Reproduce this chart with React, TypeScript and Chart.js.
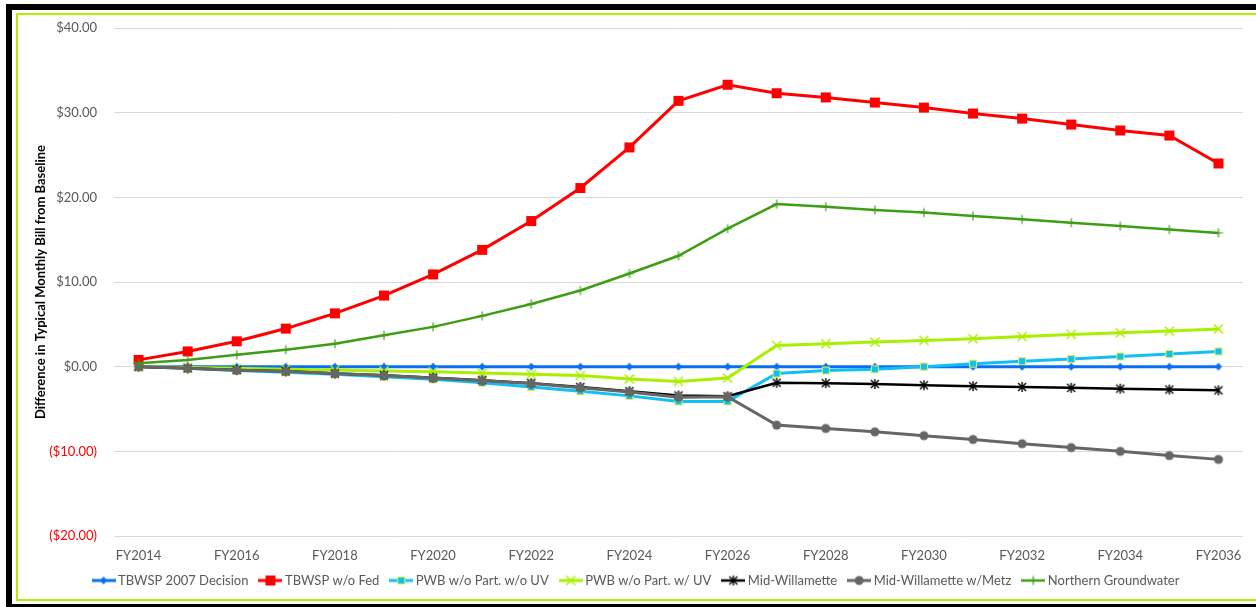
import React, { useEffect, useRef } from 'react';
import { Chart, registerables } from 'chart.js';

Chart.register(...registerables);

// Fiscal years on the category axis
const fiscalYears = [
  'FY2014', 'FY2015', 'FY2016', 'FY2017', 'FY2018', 'FY2019', 'FY2020', 'FY2021',
  'FY2022', 'FY2023', 'FY2024', 'FY2025', 'FY2026', 'FY2027', 'FY2028', 'FY2029',
  'FY2030', 'FY2031', 'FY2032', 'FY2033', 'FY2034', 'FY2035', 'FY2036',
];

// Difference in typical monthly bill from baseline, dollars
const tbwsp2007Decision = [0, 0, 0, 0, 0, 0, 0, 0, 0, 0, 0, 0, 0, 0, 0, 0, 0, 0, 0, 0, 0, 0, 0];
const tbwspWithoutFed = [
  0.8, 1.8, 3.0, 4.5, 6.3, 8.4, 10.9, 13.8, 17.2, 21.1, 25.9, 31.4,
  33.3, 32.3, 31.8, 31.2, 30.6, 29.9, 29.3, 28.6, 27.9, 27.3, 24.0,
];
const pwbNoPartnerNoUv = [
  0, -0.2, -0.45, -0.65, -0.9, -1.2, -1.5, -1.9, -2.4, -2.9, -3.45, -4.1,
  -4.1, -0.8, -0.45, -0.3, 0.0, 0.35, 0.65, 0.9, 1.2, 1.5, 1.8,
];
const pwbNoPartnerWithUv = [
  0, -0.1, -0.2, -0.3, -0.4, -0.5, -0.6, -0.75, -0.9, -1.05, -1.45, -1.75,
  -1.35, 2.5, 2.7, 2.9, 3.1, 3.3, 3.55, 3.8, 4.0, 4.2, 4.45,
];
const midWillamette = [
  0, -0.2, -0.4, -0.55, -0.8, -1.0, -1.3, -1.6, -1.95, -2.4, -2.9, -3.4,
  -3.5, -1.9, -1.95, -2.05, -2.2, -2.3, -2.4, -2.5, -2.6, -2.7, -2.8,
];
const midWillametteMetz = [
  0, -0.2, -0.43, -0.55, -0.8, -1.05, -1.35, -1.65, -2.0, -2.5, -3.0, -3.6,
  -3.55, -6.9, -7.3, -7.7, -8.15, -8.6, -9.1, -9.55, -10.0, -10.5, -10.95,
];
const northernGroundwater = [
  0.4, 0.8, 1.4, 2.0, 2.7, 3.7, 4.7, 6.0, 7.4, 9.0, 11.0, 13.1,
  16.3, 19.2, 18.9, 18.5, 18.2, 17.8, 17.4, 17.0, 16.6, 16.2, 15.8,
];

// Y axis range
const yMin = -20;
const yMax = 40;
const yStep = 10;

const FONT = 'Lato, "Open Sans", sans-serif';
const FONT_SIZE = 13;
const TEXT_GRAY = '#595959';

type MarkerKind = 'diamond' | 'square' | 'smallSquare' | 'x' | 'star' | 'circle' | 'plus';

interface SeriesStyle {
  label: string;
  data: number[];
  color: string;
  width: number;
  marker: MarkerKind;
}

const series: SeriesStyle[] = [
  { label: 'TBWSP 2007 Decision', data: tbwsp2007Decision, color: '#0A6EF5', width: 3, marker: 'diamond' },
  { label: 'TBWSP w/o Fed', data: tbwspWithoutFed, color: '#FF0000', width: 3, marker: 'square' },
  { label: 'PWB w/o Part. w/o UV', data: pwbNoPartnerNoUv, color: '#12BFF5', width: 3, marker: 'smallSquare' },
  { label: 'PWB w/o Part. w/ UV', data: pwbNoPartnerWithUv, color: '#A8F000', width: 3, marker: 'x' },
  { label: 'Mid-Willamette', data: midWillamette, color: '#000000', width: 2.5, marker: 'star' },
  { label: 'Mid-Willamette w/Metz', data: midWillametteMetz, color: '#666666', width: 3, marker: 'circle' },
  { label: 'Northern Groundwater', data: northernGroundwater, color: '#3C9E14', width: 2.5, marker: 'plus' },
];

function drawMarker(ctx: CanvasRenderingContext2D, kind: MarkerKind, cx: number, cy: number, color: string) {
  ctx.save();
  ctx.fillStyle = color;
  ctx.strokeStyle = color;
  ctx.lineCap = 'butt';
  switch (kind) {
    case 'diamond':
      ctx.beginPath();
      ctx.moveTo(cx, cy - 4);
      ctx.lineTo(cx + 3.5, cy);
      ctx.lineTo(cx, cy + 4);
      ctx.lineTo(cx - 3.5, cy);
      ctx.closePath();
      ctx.fill();
      break;
    case 'square':
      ctx.fillRect(cx - 5, cy - 5, 10, 10);
      break;
    case 'smallSquare':
      ctx.fillRect(cx - 3.5, cy - 3.5, 7, 7);
      ctx.strokeStyle = '#DDF24A';
      ctx.lineWidth = 1;
      ctx.strokeRect(cx - 3.5, cy - 3.5, 7, 7);
      break;
    case 'x':
      ctx.lineWidth = 1.5;
      ctx.beginPath();
      ctx.moveTo(cx - 4.5, cy - 4.5);
      ctx.lineTo(cx + 4.5, cy + 4.5);
      ctx.moveTo(cx + 4.5, cy - 4.5);
      ctx.lineTo(cx - 4.5, cy + 4.5);
      ctx.stroke();
      break;
    case 'star':
      ctx.lineWidth = 1.4;
      ctx.beginPath();
      ctx.moveTo(cx - 4, cy - 4);
      ctx.lineTo(cx + 4, cy + 4);
      ctx.moveTo(cx + 4, cy - 4);
      ctx.lineTo(cx - 4, cy + 4);
      ctx.moveTo(cx, cy - 5);
      ctx.lineTo(cx, cy + 5);
      ctx.stroke();
      break;
    case 'circle':
      ctx.beginPath();
      ctx.arc(cx, cy, 4.5, 0, Math.PI * 2);
      ctx.fill();
      break;
    case 'plus':
      ctx.lineWidth = 1.2;
      ctx.beginPath();
      ctx.moveTo(cx - 4.5, cy);
      ctx.lineTo(cx + 4.5, cy);
      ctx.moveTo(cx, cy - 4.5);
      ctx.lineTo(cx, cy + 4.5);
      ctx.stroke();
      break;
  }
  ctx.restore();
}

// Point marker image for a series
function markerImage(s: SeriesStyle): HTMLCanvasElement {
  const c = document.createElement('canvas');
  c.width = 14;
  c.height = 14;
  const ctx = c.getContext('2d')!;
  drawMarker(ctx, s.marker, 7, 7, s.color);
  return c;
}

// Legend swatch: a short line with the marker in the middle
function legendImage(s: SeriesStyle): HTMLCanvasElement {
  const c = document.createElement('canvas');
  c.width = 24;
  c.height = 12;
  const ctx = c.getContext('2d')!;
  ctx.strokeStyle = s.color;
  ctx.lineWidth = s.width;
  ctx.beginPath();
  ctx.moveTo(0, 6);
  ctx.lineTo(24, 6);
  ctx.stroke();
  drawMarker(ctx, s.marker, 12, 6, s.color);
  return c;
}

function formatDollars(v: number): string {
  const text = '$' + Math.abs(v).toFixed(2);
  return v < 0 ? '(' + text + ')' : text;
}

export default function App() {
  const canvasRef = useRef<HTMLCanvasElement>(null);

  useEffect(() => {
    const canvas = canvasRef.current;
    if (!canvas) return;

    const legendIcons = series.map(legendImage);

    const chart = new Chart(canvas, {
      type: 'line',
      data: {
        labels: fiscalYears,
        datasets: series.map((s, i) => ({
          label: s.label,
          data: s.data,
          borderColor: s.color,
          backgroundColor: s.color,
          borderWidth: s.width,
          pointStyle: markerImage(s) as any,
          pointRadius: 5,
          tension: 0,
          fill: false,
          order: series.length - i,
        })),
      },
      options: {
        responsive: false,
        animation: false,
        layout: { padding: { left: 32, right: 13, top: 28, bottom: 10 } },
        plugins: {
          tooltip: { enabled: false },
          legend: {
            display: true,
            position: 'bottom',
            labels: {
              usePointStyle: true,
              pointStyleWidth: 16,
              boxHeight: 12,
              padding: 14,
              color: TEXT_GRAY,
              font: { family: FONT, size: FONT_SIZE },
              generateLabels: () =>
                series.map((s, i) => ({
                  text: s.label,
                  pointStyle: legendIcons[i] as any,
                  fontColor: TEXT_GRAY,
                  fillStyle: 'transparent',
                  strokeStyle: 'transparent',
                  lineWidth: 0,
                  hidden: false,
                  datasetIndex: i,
                })),
            },
          },
        },
        scales: {
          x: {
            offset: true,
            grid: { display: false, drawTicks: false },
            border: { display: false },
            ticks: {
              autoSkip: false,
              maxRotation: 0,
              padding: 12,
              color: TEXT_GRAY,
              font: { family: FONT, size: FONT_SIZE },
              callback: function (this: any, value: any, index: number) {
                return index % 2 === 0 ? this.getLabelForValue(value) : '';
              },
            },
            afterFit: (scale: any) => {
              scale.height = 24;
            },
          },
          y: {
            min: yMin,
            max: yMax,
            grid: { color: '#D9D9D9', lineWidth: 1, drawTicks: false },
            border: { display: false },
            ticks: {
              stepSize: yStep,
              padding: 17,
              color: (ctx: any) => (ctx.tick && ctx.tick.value < 0 ? '#FF0000' : TEXT_GRAY),
              font: { family: FONT, size: FONT_SIZE },
              callback: (value: any) => formatDollars(Number(value)),
            },
            title: {
              display: true,
              text: 'Difference in Typical Monthly Bill from Baseline',
              color: '#000000',
              font: { family: FONT, size: FONT_SIZE, weight: 'bold' },
              padding: { top: 1, bottom: 0 },
            },
            afterFit: (scale: any) => {
              scale.width = 82;
            },
          },
        },
      },
    });

    return () => chart.destroy();
  }, []);

  return (
    <div style={{ position: 'fixed', left: 0, top: 0, width: 1256, height: 607, overflow: 'hidden', background: '#ffffff' }}>
      <div
        style={{
          position: 'absolute', left: 6, top: 4, width: 1400, height: 606,
          border: '6px solid #000000', boxSizing: 'border-box',
        }}
      />
      <div
        style={{
          position: 'absolute', left: 16, top: 13, width: 1400, height: 588,
          border: '2px solid #B0F000', boxSizing: 'border-box',
        }}
      />
      <canvas
        ref={canvasRef}
        width={1256}
        height={607}
        style={{ position: 'absolute', left: 0, top: 0, width: 1256, height: 607 }}
      />
    </div>
  );
}
